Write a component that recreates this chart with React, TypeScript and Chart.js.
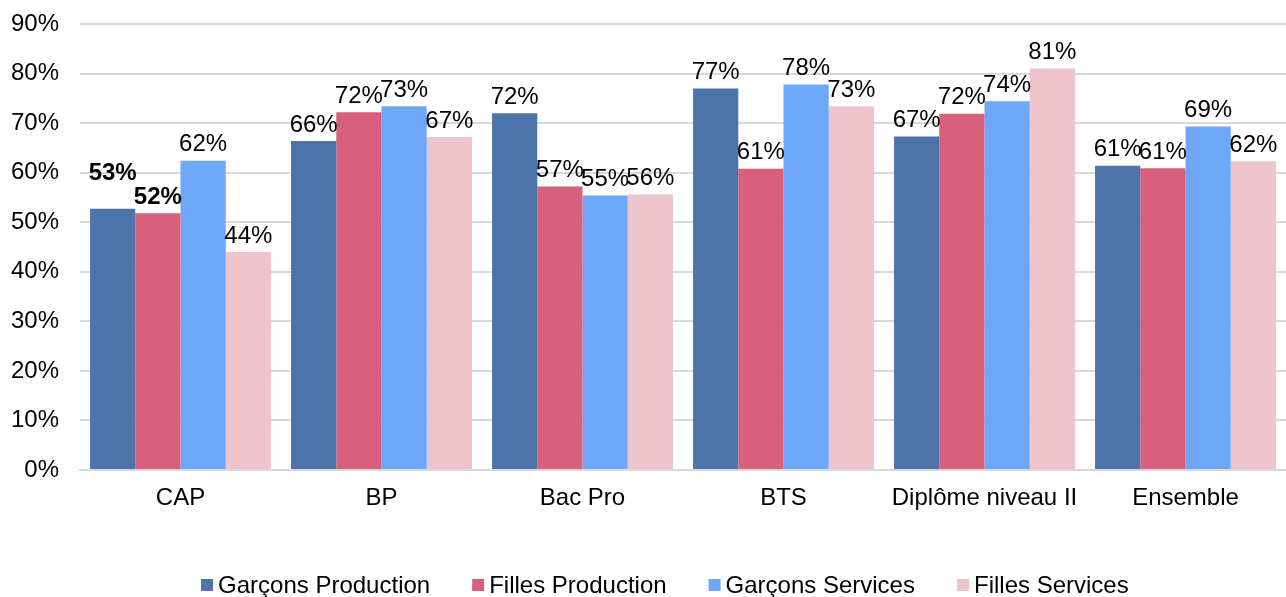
import React, { useEffect, useRef } from 'react';
import { Chart, registerables } from 'chart.js';

Chart.register(...registerables);

const categories = ['CAP', 'BP', 'Bac Pro', 'BTS', 'Diplôme niveau II', 'Ensemble'];
const seriesNames = ['Garçons Production', 'Filles Production', 'Garçons Services', 'Filles Services'];
const garconsProduction = [52.7, 66.4, 72.0, 77.0, 67.3, 61.4];
const fillesProduction = [51.8, 72.2, 57.2, 60.8, 71.9, 60.9];
const garconsServices = [62.4, 73.4, 55.4, 77.8, 74.4, 69.3];
const fillesServices = [44.0, 67.2, 55.6, 73.4, 81.0, 62.3];
const yTickValues = [0, 10, 20, 30, 40, 50, 60, 70, 80, 90];

const colors = ['#4C74AB', '#D9607C', '#6EA7F8', '#EDC3CC'];
const FONT = '"Liberation Sans", Arial, sans-serif';
const FS = 24;

const valueLabels = {
  id: 'valueLabels',
  afterDatasetsDraw(chart: any) {
    const ctx = chart.ctx;
    ctx.save();
    ctx.textAlign = 'center';
    ctx.textBaseline = 'middle';
    ctx.fillStyle = '#000';
    const n = chart.data.labels.length;
    for (let i = 0; i < n; i++) {
      const items: any[] = [];
      chart.data.datasets.forEach((ds: any, di: number) => {
        const bar = chart.getDatasetMeta(di).data[i];
        const bold = i === 0 && di < 2;
        const font = `${bold ? 'bold ' : ''}${FS}px ${FONT}`;
        ctx.font = font;
        const text = Math.round(ds.data[i]) + '%';
        const w = ctx.measureText(text).width + (bold ? 6 : 0);
        items.push({ text, font, x: bar.x, y: bar.y - 16, w });
      });
      // simple overlap avoidance: lower labels placed first
      const order = [...items].sort((a, b) => b.y - a.y);
      const placed: any[] = [];
      order.forEach((it) => {
        let moved = true;
        while (moved) {
          moved = false;
          for (const p of placed) {
            const hOverlap = Math.min(it.x + it.w / 2, p.x + p.w / 2) - Math.max(it.x - it.w / 2, p.x - p.w / 2);
            if (hOverlap > 6 && Math.abs(it.y - p.y) < 22) {
              it.y = p.y - 24;
              moved = true;
            }
          }
        }
        placed.push(it);
      });
      items.forEach((it) => {
        ctx.font = it.font;
        ctx.fillText(it.text, it.x, it.y);
      });
    }
    ctx.restore();
  },
};

const bottomLegend = {
  id: 'bottomLegend',
  afterDraw(chart: any) {
    const ctx = chart.ctx;
    ctx.save();
    ctx.font = `${FS}px ${FONT}`;
    ctx.textBaseline = 'middle';
    ctx.textAlign = 'left';
    const box = 12;
    const boxGap = 5;
    const itemGap = 42;
    const widths = seriesNames.map((n) => box + boxGap + ctx.measureText(n).width);
    const total = widths.reduce((a, b) => a + b, 0) + itemGap * (seriesNames.length - 1);
    const centerX = chart.width * 0.517;
    const y = 585;
    let x = centerX - total / 2;
    seriesNames.forEach((n, i) => {
      ctx.fillStyle = colors[i];
      ctx.fillRect(x, y - box / 2, box, box);
      ctx.fillStyle = '#000';
      ctx.fillText(n, x + box + boxGap, y + 1);
      x += widths[i] + itemGap;
    });
    ctx.restore();
  },
};

export default function App() {
  const canvasRef = useRef<HTMLCanvasElement | null>(null);

  useEffect(() => {
    document.body.style.margin = '0';
    document.body.style.overflow = 'hidden';
    const canvas = canvasRef.current;
    if (!canvas) return;
    const seriesData = [garconsProduction, fillesProduction, garconsServices, fillesServices];
    const chart = new Chart(canvas, {
      type: 'bar',
      data: {
        labels: categories,
        datasets: seriesNames.map((name, i) => ({
          label: name,
          data: seriesData[i],
          backgroundColor: colors[i],
          borderWidth: 0,
          categoryPercentage: 0.9,
          barPercentage: 1.0,
        })),
      },
      options: {
        animation: false,
        responsive: true,
        maintainAspectRatio: false,
        layout: { padding: { top: 24, right: 0, bottom: 0, left: 0 } },
        plugins: {
          legend: { display: false },
          tooltip: { enabled: false },
        },
        scales: {
          x: {
            grid: { display: false, drawTicks: false },
            border: { display: true, color: '#D9D9D9', width: 2 },
            ticks: {
              color: '#000',
              font: { family: FONT, size: FS },
              padding: 14,
              maxRotation: 0,
              autoSkip: false,
            },
            afterFit: (scale: any) => {
              scale.height = 127;
              scale.paddingLeft = 0;
              scale.paddingRight = 0;
            },
          },
          y: {
            min: 0,
            max: 90,
            afterBuildTicks: (scale: any) => {
              scale.ticks = yTickValues.map((v) => ({ value: v }));
            },
            grid: { color: '#D9D9D9', lineWidth: 2, drawTicks: false },
            border: { display: false },
            ticks: {
              color: '#000',
              font: { family: FONT, size: FS },
              padding: 21,
              callback: (v: any) => v + '%',
            },
            afterFit: (scale: any) => {
              scale.width = 80;
              scale.paddingTop = 0;
              scale.paddingBottom = 0;
            },
          },
        },
      },
      plugins: [valueLabels, bottomLegend],
    });
    return () => chart.destroy();
  }, []);

  return (
    <div style={{ position: 'relative', width: 1286, height: 597 }}>
      <canvas ref={canvasRef} />
    </div>
  );
}
